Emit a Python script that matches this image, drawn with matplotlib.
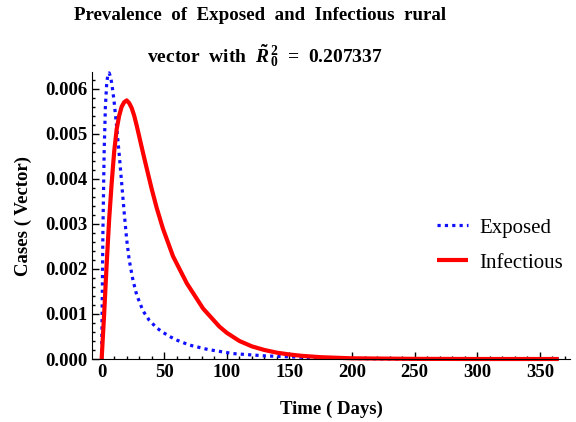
import numpy as np
import matplotlib
matplotlib.use("Agg")
import matplotlib.pyplot as plt
from matplotlib.ticker import MultipleLocator, FormatStrFormatter

plt.rcParams['font.family'] = ['Liberation Serif', 'DejaVu Serif']
plt.rcParams['mathtext.fontset'] = 'custom'
plt.rcParams['mathtext.rm'] = 'Liberation Serif:bold'
plt.rcParams['mathtext.it'] = 'Liberation Serif:bold:italic'
plt.rcParams['mathtext.bf'] = 'Liberation Serif:bold'

# values
exposed_t = [0, 1, 2, 3, 4, 5, 6, 7, 8, 9, 10, 12, 14, 16, 18, 20, 22, 25,
             28, 33, 38, 44, 49, 55, 60, 70, 85, 105, 130, 158, 180, 220, 260,
             365]
exposed_y = [0, 0.0028, 0.0046, 0.0056, 0.0061, 0.00632, 0.00635, 0.00627,
             0.00613, 0.00593, 0.0057, 0.00515, 0.00455, 0.0039, 0.00325,
             0.00265, 0.0022, 0.00175, 0.00142, 0.00107, 0.00086, 0.00069,
             0.00059, 0.00049, 0.00042, 0.00031, 0.00021, 0.00012, 0.00007,
             0.00004, 0.00002, 0.000005, 0.000001, 0]

infect_t = [0, 2, 4, 6, 8, 10, 12, 14, 16, 18, 20, 22, 24, 26, 28, 30, 33,
            36, 40, 44, 49, 57, 68, 81, 94, 100, 110, 120, 130, 140, 150, 160,
            175, 200, 250, 300, 365]
infect_y = [0, 0.0010, 0.0021, 0.0031, 0.0039, 0.0046, 0.0051, 0.0054,
            0.0056, 0.00570, 0.00574, 0.00568, 0.00557, 0.0054, 0.00518,
            0.00494, 0.00458, 0.00423, 0.00377, 0.00335, 0.00289, 0.00228,
            0.00168, 0.00112, 0.00072, 0.00058, 0.00040, 0.00028, 0.00020,
            0.00014, 0.00010, 0.00007, 0.00004, 0.000015, 0.000003, 0, 0]

x_ticks = [0, 50, 100, 150, 200, 250, 300, 350]

fig = plt.figure(figsize=(5.76, 4.22), dpi=100)
ax = fig.add_axes([92/576, 1 - 359/422, (570 - 92)/576, (359 - 72)/422])

ax.plot(exposed_t, exposed_y, color='#1010ff', lw=2.3,
        linestyle=(0, (1, 1.3)), label='Exposed', clip_on=False)
ax.plot(infect_t, infect_y, color='#ff0000', lw=3,
        label='Infectious', clip_on=False, solid_capstyle='butt')

ax.set_xlim(-7.7, 374)
ax.set_ylim(0, 0.00637)
ax.spines['top'].set_visible(False)
ax.spines['right'].set_visible(False)
ax.set_xticks(x_ticks)
ax.xaxis.set_minor_locator(MultipleLocator(10))
ax.yaxis.set_major_locator(MultipleLocator(0.001))
ax.yaxis.set_minor_locator(MultipleLocator(0.0002))
ax.yaxis.set_major_formatter(FormatStrFormatter('%.3f'))
ax.tick_params(which='both', direction='in', width=1)
ax.tick_params(which='major', length=5)
ax.tick_params(which='minor', length=2.5)
ax.tick_params(labelsize=13.5)
for lab in ax.get_xticklabels() + ax.get_yticklabels():
    lab.set_fontweight('bold')

ax.set_xlabel('Time ( Days)', fontsize=13.5, fontweight='bold', labelpad=14)
ax.set_ylabel('Cases ( Vector)', fontsize=13.5, fontweight='bold', labelpad=9)

fig.text(0.452, 1 - 16/422, 'Prevalence  of  Exposed  and  Infectious  rural',
         ha='center', va='center', fontsize=13.6, fontweight='bold')
fig.text(0.46, 1 - 56/422, r'vector  with  $\tilde{R}_{\,0}^{\,2}$  =  0.207337',
         ha='center', va='center', fontsize=14, fontweight='bold')

ax.legend(loc='upper left', bbox_to_anchor=(437/576, 1 - 218/422),
          bbox_transform=fig.transFigure, frameon=False, fontsize=15,
          handlelength=1.5, handletextpad=0.55, labelspacing=0.75,
          borderpad=0, borderaxespad=0)

fig.savefig('out.png', dpi=100)
